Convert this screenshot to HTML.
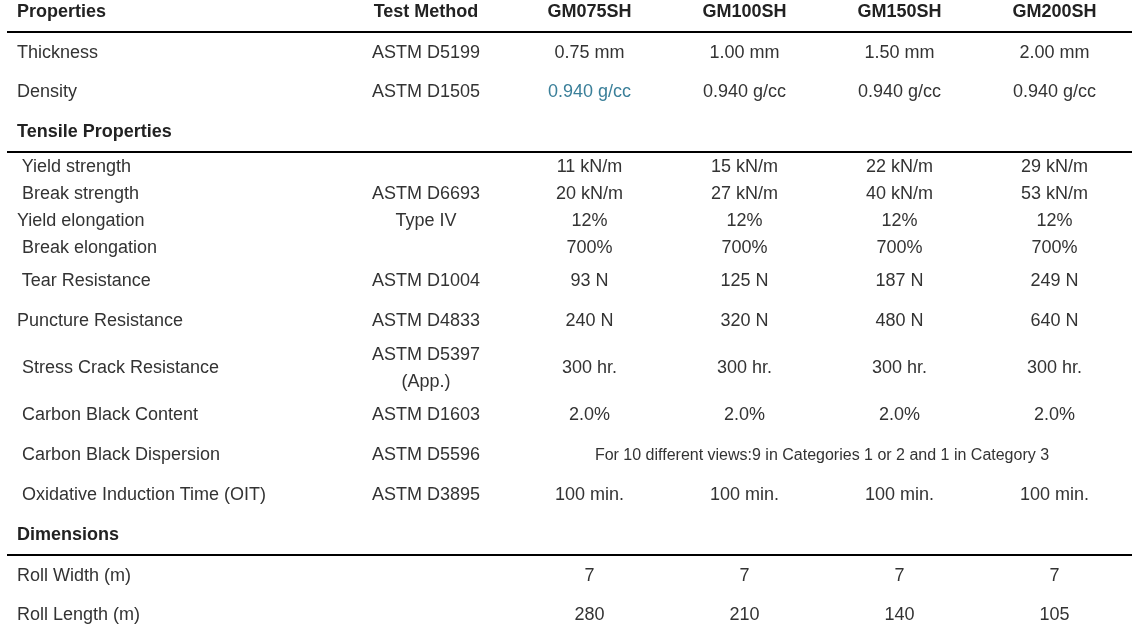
<!DOCTYPE html>
<html><head><meta charset="utf-8"><title>GM SH Specifications</title>
<style>
html,body{margin:0;padding:0;background:#fff;}
body{width:1142px;height:628px;position:relative;overflow:hidden;font-family:"Liberation Sans",sans-serif;font-size:18px;color:#333;}
.t{position:absolute;line-height:20px;white-space:pre;}
.b{font-weight:bold;color:#222;}
.c{text-align:center;}
.ln{position:absolute;left:7px;width:1125px;height:2px;background:#000;}
#w{position:absolute;left:0;top:0;width:1142px;height:628px;will-change:transform;}
</style></head><body><div id="w">

<div class="t b" style="left:17px;top:1px">Properties</div>
<div class="t b c" style="left:340px;width:172px;top:1px">Test Method</div>
<div class="t b c" style="left:512px;width:155px;top:1px">GM075SH</div>
<div class="t b c" style="left:667px;width:155px;top:1px">GM100SH</div>
<div class="t b c" style="left:822px;width:155px;top:1px">GM150SH</div>
<div class="t b c" style="left:977px;width:155px;top:1px">GM200SH</div>
<div class="t" style="left:17px;top:42px">Thickness</div>
<div class="t c" style="left:340px;width:172px;top:42px">ASTM D5199</div>
<div class="t c" style="left:512px;width:155px;top:42px">0.75 mm</div>
<div class="t c" style="left:667px;width:155px;top:42px">1.00 mm</div>
<div class="t c" style="left:822px;width:155px;top:42px">1.50 mm</div>
<div class="t c" style="left:977px;width:155px;top:42px">2.00 mm</div>
<div class="t" style="left:17px;top:81px">Density</div>
<div class="t c" style="left:340px;width:172px;top:81px">ASTM D1505</div>
<div class="t c" style="left:512px;width:155px;top:81px;color:#3a7f99">0.940 g/cc</div>
<div class="t c" style="left:667px;width:155px;top:81px">0.940 g/cc</div>
<div class="t c" style="left:822px;width:155px;top:81px">0.940 g/cc</div>
<div class="t c" style="left:977px;width:155px;top:81px">0.940 g/cc</div>
<div class="t b" style="left:17px;top:121px">Tensile Properties</div>
<div class="t" style="left:17px;top:156px"> Yield strength</div>
<div class="t c" style="left:512px;width:155px;top:156px">11 kN/m</div>
<div class="t c" style="left:667px;width:155px;top:156px">15 kN/m</div>
<div class="t c" style="left:822px;width:155px;top:156px">22 kN/m</div>
<div class="t c" style="left:977px;width:155px;top:156px">29 kN/m</div>
<div class="t" style="left:17px;top:183px"> Break strength</div>
<div class="t c" style="left:340px;width:172px;top:183px">ASTM D6693</div>
<div class="t c" style="left:512px;width:155px;top:183px">20 kN/m</div>
<div class="t c" style="left:667px;width:155px;top:183px">27 kN/m</div>
<div class="t c" style="left:822px;width:155px;top:183px">40 kN/m</div>
<div class="t c" style="left:977px;width:155px;top:183px">53 kN/m</div>
<div class="t" style="left:17px;top:210px">Yield elongation</div>
<div class="t c" style="left:340px;width:172px;top:210px">Type IV</div>
<div class="t c" style="left:512px;width:155px;top:210px">12%</div>
<div class="t c" style="left:667px;width:155px;top:210px">12%</div>
<div class="t c" style="left:822px;width:155px;top:210px">12%</div>
<div class="t c" style="left:977px;width:155px;top:210px">12%</div>
<div class="t" style="left:17px;top:237px"> Break elongation</div>
<div class="t c" style="left:512px;width:155px;top:237px">700%</div>
<div class="t c" style="left:667px;width:155px;top:237px">700%</div>
<div class="t c" style="left:822px;width:155px;top:237px">700%</div>
<div class="t c" style="left:977px;width:155px;top:237px">700%</div>
<div class="t" style="left:17px;top:270px"> Tear Resistance</div>
<div class="t c" style="left:340px;width:172px;top:270px">ASTM D1004</div>
<div class="t c" style="left:512px;width:155px;top:270px">93 N</div>
<div class="t c" style="left:667px;width:155px;top:270px">125 N</div>
<div class="t c" style="left:822px;width:155px;top:270px">187 N</div>
<div class="t c" style="left:977px;width:155px;top:270px">249 N</div>
<div class="t" style="left:17px;top:310px">Puncture Resistance</div>
<div class="t c" style="left:340px;width:172px;top:310px">ASTM D4833</div>
<div class="t c" style="left:512px;width:155px;top:310px">240 N</div>
<div class="t c" style="left:667px;width:155px;top:310px">320 N</div>
<div class="t c" style="left:822px;width:155px;top:310px">480 N</div>
<div class="t c" style="left:977px;width:155px;top:310px">640 N</div>
<div class="t" style="left:17px;top:356.5px"> Stress Crack Resistance</div>
<div class="t c" style="left:512px;width:155px;top:356.5px">300 hr.</div>
<div class="t c" style="left:667px;width:155px;top:356.5px">300 hr.</div>
<div class="t c" style="left:822px;width:155px;top:356.5px">300 hr.</div>
<div class="t c" style="left:977px;width:155px;top:356.5px">300 hr.</div>
<div class="t c" style="left:340px;width:172px;top:344px">ASTM D5397</div>
<div class="t c" style="left:340px;width:172px;top:371px">(App.)</div>
<div class="t" style="left:17px;top:403.5px"> Carbon Black Content</div>
<div class="t c" style="left:340px;width:172px;top:403.5px">ASTM D1603</div>
<div class="t c" style="left:512px;width:155px;top:403.5px">2.0%</div>
<div class="t c" style="left:667px;width:155px;top:403.5px">2.0%</div>
<div class="t c" style="left:822px;width:155px;top:403.5px">2.0%</div>
<div class="t c" style="left:977px;width:155px;top:403.5px">2.0%</div>
<div class="t" style="left:17px;top:443.5px"> Carbon Black Dispersion</div>
<div class="t c" style="left:340px;width:172px;top:443.5px">ASTM D5596</div>
<div class="t" style="left:17px;top:483.5px"> Oxidative Induction Time (OIT)</div>
<div class="t c" style="left:340px;width:172px;top:483.5px">ASTM D3895</div>
<div class="t c" style="left:512px;width:155px;top:483.5px">100 min.</div>
<div class="t c" style="left:667px;width:155px;top:483.5px">100 min.</div>
<div class="t c" style="left:822px;width:155px;top:483.5px">100 min.</div>
<div class="t c" style="left:977px;width:155px;top:483.5px">100 min.</div>
<div class="t b" style="left:17px;top:524px">Dimensions</div>
<div class="t" style="left:17px;top:565px">Roll Width (m)</div>
<div class="t c" style="left:512px;width:155px;top:565px">7</div>
<div class="t c" style="left:667px;width:155px;top:565px">7</div>
<div class="t c" style="left:822px;width:155px;top:565px">7</div>
<div class="t c" style="left:977px;width:155px;top:565px">7</div>
<div class="t" style="left:17px;top:604px">Roll Length (m)</div>
<div class="t c" style="left:512px;width:155px;top:604px">280</div>
<div class="t c" style="left:667px;width:155px;top:604px">210</div>
<div class="t c" style="left:822px;width:155px;top:604px">140</div>
<div class="t c" style="left:977px;width:155px;top:604px">105</div>
<div class="t c" style="left:512px;width:620px;top:444.5px;font-size:16px">For 10 different views:9 in Categories 1 or 2 and 1 in Category 3</div>
<div class="ln" style="top:31px"></div>
<div class="ln" style="top:151px"></div>
<div class="ln" style="top:554px"></div>
</div></body></html>
